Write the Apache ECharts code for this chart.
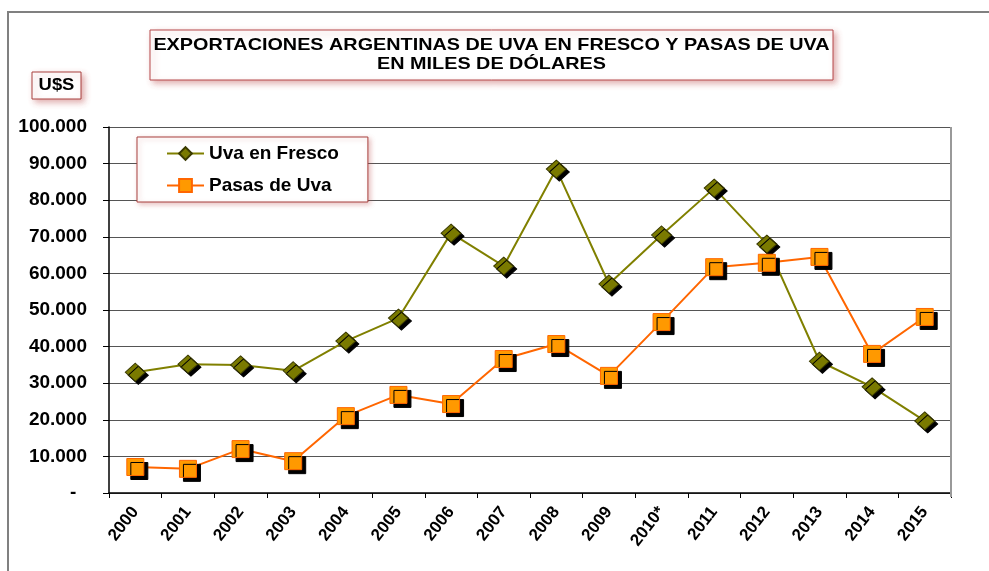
<!DOCTYPE html>
<html>
<head>
<meta charset="utf-8">
<script src="https://cdn.jsdelivr.net/npm/echarts@6/dist/echarts.min.js"></script>
<style>
html,body{margin:0;padding:0;background:#fff;}
#chart{width:989px;height:571px;}
</style>
</head>
<body>
<div id="chart"></div>
<script>
var years = ['2000','2001','2002','2003','2004','2005','2006','2007','2008','2009','2010*','2011','2012','2013','2014','2015'];
var uvaFresco = [33000, 35200, 35000, 33400, 41500, 47800, 71000, 62000, 88500, 57100, 70500, 83300, 68000, 36000, 29000, 19700];
var pasasUva = [7100, 6600, 12000, 8700, 21000, 26800, 24300, 36600, 40700, 32000, 46700, 61700, 62900, 64500, 38000, 48100];
var yTicks = {min: 0, max: 100000, interval: 10000};
var titleLines = ['EXPORTACIONES ARGENTINAS DE UVA EN FRESCO Y PASAS DE UVA', 'EN MILES DE DÓLARES'];
var unitLabel = 'U$S';

var FONT = 'Arial, "Liberation Sans", sans-serif';

function fmt(v) {
  if (v === 0) return '-  ';
  return String(v).replace(/\B(?=(\d{3})+(?!\d))/g, '.');
}

var chart = echarts.init(document.getElementById('chart'));
chart.setOption({
  backgroundColor: '#fff',
  animation: false,
  grid: {left: 109, right: 38, top: 127, bottom: 78},
  legend: {
    orient: 'vertical',
    left: 137, top: 137,
    padding: [7, 29, 7, 29],
    itemGap: 13,
    itemWidth: 37,
    itemHeight: 16,
    borderColor: '#A8403E',
    borderWidth: 1,
    backgroundColor: '#fff',
    shadowColor: 'rgba(190,80,80,0.35)',
    shadowBlur: 5,
    shadowOffsetX: 2,
    shadowOffsetY: 2,
    textStyle: {fontFamily: FONT, fontWeight: 'bold', fontSize: 19, color: '#000', padding: [0,0,0,0]},
    data: [
      {name: 'Uva en Fresco', itemStyle: {shadowColor: 'transparent'}},
      {name: 'Pasas de Uva', itemStyle: {shadowColor: 'transparent'}}
    ]
  },
  xAxis: {
    type: 'category',
    data: years,
    boundaryGap: true,
    axisLine: {lineStyle: {color: '#000', width: 1.5}},
    axisTick: {show: true, length: 5, lineStyle: {color: '#000'}},
    axisLabel: {rotate: 52, margin: 16, interval: 0, fontFamily: FONT, fontWeight: 'bold', fontSize: 17, color: '#000'},
    splitLine: {show: false}
  },
  yAxis: {
    type: 'value',
    min: yTicks.min, max: yTicks.max, interval: yTicks.interval,
    axisLine: {show: true, lineStyle: {color: '#000', width: 1.5}},
    axisTick: {show: true, length: 6, lineStyle: {color: '#000'}},
    axisLabel: {margin: 22, fontFamily: FONT, fontWeight: 'bold', fontSize: 19, color: '#000', formatter: fmt},
    splitLine: {show: true, lineStyle: {color: '#555', width: 1.2}}
  },
  graphic: [
    {type: 'polyline', silent: true, z: 0, shape: {points: [[8, 571], [8, 12], [989, 12]]}, style: {stroke: '#808080', lineWidth: 2, fill: null}},
    {type: 'line', silent: true, z: 5, shape: {x1: 951, y1: 127, x2: 951, y2: 497}, style: {stroke: '#999', lineWidth: 2}},
    {type: 'rect', silent: true, z: 10, shape: {x: 150, y: 30, width: 683, height: 50},
      style: {fill: '#fff', stroke: '#B5484A', lineWidth: 1, shadowColor: 'rgba(190,80,80,0.45)', shadowBlur: 6, shadowOffsetX: 3, shadowOffsetY: 3}},
    {type: 'text', silent: true, z: 11, x: 491.5, y: 45, scaleX: 1.2,
      style: {text: titleLines[0], fontFamily: FONT, fontWeight: 'bold', fontSize: 16.5, fill: '#000', align: 'center', verticalAlign: 'middle'}},
    {type: 'text', silent: true, z: 11, x: 491.5, y: 64, scaleX: 1.2,
      style: {text: titleLines[1], fontFamily: FONT, fontWeight: 'bold', fontSize: 16.5, fill: '#000', align: 'center', verticalAlign: 'middle'}},
    {type: 'rect', silent: true, z: 10, shape: {x: 32, y: 72, width: 49, height: 27},
      style: {fill: '#fff', stroke: '#A8403E', lineWidth: 1, shadowColor: 'rgba(190,80,80,0.45)', shadowBlur: 6, shadowOffsetX: 3, shadowOffsetY: 3}},
    {type: 'text', silent: true, z: 11, x: 56.5, y: 86, scaleX: 1.15,
      style: {text: unitLabel, fontFamily: FONT, fontWeight: 'bold', fontSize: 16, fill: '#000', align: 'center', verticalAlign: 'middle'}}
  ],
  series: [
    {
      name: 'Uva en Fresco',
      type: 'line',
      data: uvaFresco,
      symbol: 'diamond',
      symbolSize: [20, 18],
      lineStyle: {color: '#808000', width: 2},
      itemStyle: {color: '#7A7A00', borderColor: '#3A3A00', borderWidth: 1, shadowColor: '#000', shadowBlur: 0, shadowOffsetX: 3, shadowOffsetY: 3},
      z: 3
    },
    {
      name: 'Pasas de Uva',
      type: 'line',
      data: pasasUva,
      symbol: 'rect',
      symbolSize: 17,
      lineStyle: {color: '#FF6600', width: 2},
      itemStyle: {color: '#FF9900', borderColor: '#FF6600', borderWidth: 1, shadowColor: '#000', shadowBlur: 0, shadowOffsetX: 4, shadowOffsetY: 4},
      z: 4
    }
  ]
});
</script>
</body>
</html>
